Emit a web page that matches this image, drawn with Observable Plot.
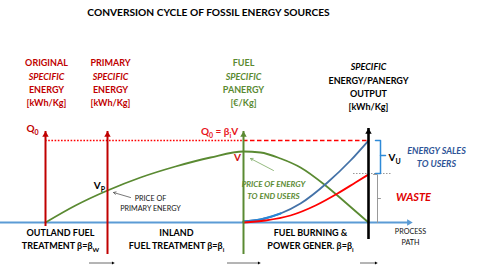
<!DOCTYPE html>
<html><head><meta charset="utf-8">
<script src="https://cdn.jsdelivr.net/npm/d3@7"></script>
<script src="https://cdn.jsdelivr.net/npm/@observablehq/plot@0.6"></script>
<style>body{margin:0;background:#fff}</style>
</head><body><div id="chart"></div>
<script>
// ---- data (process-path position x, specific value y; baseline = 0) ----
const stageNames = ["original", "primary", "fuel", "output"];
const stageX = [45, 107, 243, 368];
const stageBottom = [0, -28, -28, -13];
const stageTop = [91, 91, 91, 94];

const q0 = 82;               // Q0 = βi·V level
const pathEnd = 412;         // process path arrow tip

const panergyX = [45, 75, 107, 140, 175, 210, 243, 260, 280, 300, 325, 345, 368];
const panergyV = [0, 17, 32, 45, 56, 65, 71, 70, 64, 55, 37, 20, 0];

const salesX = [243, 260, 280, 300, 327, 350, 368];
const salesV = [1, 3, 9, 19, 40, 62, 82];

const wasteX = [243, 265, 290, 315, 337, 355, 368];
const wasteV = [0, 2, 7, 17, 29, 40, 48];

const stepArrowsX1 = [89, 227, 360];
const stepArrowsX2 = [114, 260, 377];
const stepArrowY = -40.5;

const title = "CONVERSION CYCLE OF FOSSIL ENERGY SOURCES";
const headings = [
  {x: 46, lines: ["ORIGINAL", "SPECIFIC", "ENERGY", "[kWh/Kg]"], top: 159, color: "red"},
  {x: 110, lines: ["PRIMARY", "SPECIFIC", "ENERGY", "[kWh/Kg]"], top: 159, color: "red"},
  {x: 243, lines: ["FUEL", "SPECIFIC", "PANERGY", "[€/Kg]"], top: 159, color: "green"},
  {x: 368, lines: ["SPECIFIC", "ENERGY/PANERGY", "OUTPUT", "[kWh/Kg]"], top: 155, color: "black"}
];
const phaseLabels = [
  {x: 60, lines: ["OUTLAND FUEL", "TREATMENT β=β_W"]},
  {x: 176, lines: ["INLAND", "FUEL TREATMENT β=β_i"]},
  {x: 310, lines: ["FUEL BURNING &", "POWER GENER. β=β_i"]}
];

// ---- colours ----
const C = {red: "#c00000", bright: "#ff0000", green: "#5a8a32", blue: "#4472a8",
  light: "#5b9bd5", lightCurve: "#2a86d6", brace: "#2e8ad8", sales: "#2f5597", black: "#000"};
const stageColor = [C.red, C.red, C.green, C.black];
const stageWidth = [2, 2, 2, 2.6];

// ---- derived tables ----
const stages = stageNames.map((n, i) => ({n, x: stageX[i], y1: stageBottom[i], y2: stageTop[i], c: stageColor[i], w: stageWidth[i]}));
const panergy = panergyX.map((x, i) => ({x, y: panergyV[i]}));
const sales = salesX.map((x, i) => ({x, y: salesV[i]}));
const waste = wasteX.map((x, i) => ({x, y: wasteV[i]}));
const steps = stepArrowsX1.map((x1, i) => ({x1, x2: stepArrowsX2[i], y: stepArrowY}));
const headingRows = headings.flatMap(h => h.lines.map((t, j) => ({x: h.x, y: h.top - j * 13.3, t, italic: t === "SPECIFIC", c: h.color === "red" ? C.red : h.color === "green" ? C.green : C.black})));
const phaseRows = phaseLabels.flatMap(p => p.lines.map((t, j) => ({x: p.x, y: -11 - j * 12.5, t})));

const salesEnd = salesV[salesV.length - 1];
const wasteEnd = wasteV[wasteV.length - 1];
const outX = stageX[3];
const braceX = outX + 12, braceL = outX + 7;
const brace = [{x: braceL, y: salesEnd}, {x: braceX, y: salesEnd}, {x: braceX, y: wasteEnd + 1}, {x: braceL, y: wasteEnd + 1}];
const braceTick = [{x: braceX, y: (salesEnd + wasteEnd) / 2 + 2}, {x: braceX + 5, y: (salesEnd + wasteEnd) / 2 + 2}];
const wasteBrX = outX + 9;
const wasteBr = [{x: wasteBrX - 4, y: wasteEnd}, {x: wasteBrX, y: wasteEnd}, {x: wasteBrX, y: 0}];
const wasteTick = [{x: wasteBrX, y: wasteEnd / 2}, {x: wasteBrX + 3, y: wasteEnd / 2}];

const fuelX = stageX[2];
const svg = Plot.plot({
  width: 480, height: 269,
  marginTop: 0, marginRight: 0, marginBottom: 0, marginLeft: 0,
  x: {domain: [0, 480], range: [0, 480], axis: null},
  y: {domain: [-47, 222], range: [269, 0], axis: null},
  style: {fontFamily: "Lato, 'Open Sans', sans-serif", background: "#fff"},
  marks: [
    // Q0 reference line: dotted then dashed
    Plot.ruleY([q0], {x1: stageX[0], x2: fuelX, stroke: C.bright, strokeWidth: 1.6, strokeDasharray: "1.6,1.6"}),
    Plot.ruleY([q0], {x1: fuelX, x2: outX, stroke: C.bright, strokeWidth: 1.6, strokeDasharray: "4.5,2.5"}),
    // grey dotted level of waste end
    Plot.ruleY([wasteEnd + 1], {x1: outX - 15, x2: outX + 24, stroke: "#999", strokeWidth: 1, strokeDasharray: "1.5,1.5"}),
    // process path baseline
    Plot.ruleY([0], {x1: 0, x2: pathEnd, insetRight: 4, stroke: C.light, strokeWidth: 2.2}),
    Plot.dot([0], {x: pathEnd, y: 0, symbol: "triangle", rotate: 90, r: 2.4, fill: C.light, stroke: "none", dx: -3.5}),
    // curves
    Plot.line(panergy, {x: "x", y: "y", curve: "monotone-x", stroke: C.green, strokeWidth: 1.8}),
    Plot.line(sales, {x: "x", y: "y", curve: "monotone-x", stroke: C.blue, strokeWidth: 1.8}),
    Plot.line(sales.filter(d => d.x <= 290), {x: "x", y: "y", curve: "monotone-x", stroke: C.lightCurve, strokeWidth: 2.2}),
    Plot.line(waste, {x: "x", y: "y", curve: "monotone-x", stroke: C.bright, strokeWidth: 1.8}),
    // stage axes
    Plot.ruleX(stages, {x: "x", y1: "y1", y2: "y2", insetTop: 4, stroke: "c", strokeWidth: "w"}),
    Plot.dot(stages, {x: "x", y: "y2", symbol: "triangle", r: 2.4, fill: "c", stroke: "none", dy: 3.5}),
    // brackets
    Plot.line(brace, {x: "x", y: "y", stroke: C.brace, strokeWidth: 1.5}),
    Plot.line(braceTick, {x: "x", y: "y", stroke: C.brace, strokeWidth: 1.5}),
    Plot.line(wasteBr, {x: "x", y: "y", stroke: "#999", strokeWidth: 1}),
    Plot.line(wasteTick, {x: "x", y: "y", stroke: "#999", strokeWidth: 1}),
    // pointer arrows
    Plot.arrow([0], {x1: 130, y1: 25, x2: 113, y2: 30, stroke: "#555", strokeWidth: 0.8, headLength: 5}),
    Plot.arrow([0], {x1: 273, y1: 52, x2: 250, y2: 64, stroke: "#7aa860", strokeWidth: 0.8, headLength: 5}),
    // step arrows along bottom
    Plot.ruleY(steps, {x1: "x1", x2: "x2", y: "y", insetRight: 2, stroke: "#444", strokeWidth: 0.8}),
    Plot.dot(steps, {x: "x2", y: "y", symbol: "triangle", rotate: 90, r: 1.2, fill: "#000", stroke: "none", dx: -1.6}),
    // title and headings
    Plot.text([title], {x: 208, y: 210, text: d => d, fontSize: 10.2, fontWeight: "bold", fill: "#000"}),
    Plot.text(headingRows.filter(d => !d.italic), {x: "x", y: "y", text: "t", fill: "c", fontSize: 9, fontWeight: "bold"}),
    Plot.text(headingRows.filter(d => d.italic), {x: "x", y: "y", text: "t", fill: "c", fontSize: 9, fontWeight: "bold", fontStyle: "italic"}),
    // value labels
    Plot.text(["Q_0"], {x: 32, y: 94, text: d => d, fill: C.red, fontSize: 10, fontWeight: "bold"}),
    Plot.text(["Q_0 = β_iV"], {x: 219, y: 91, text: d => d, fill: "#e8141b", fontSize: 10, fontWeight: "bold"}),
    Plot.text(["V"], {x: 237, y: 65, text: d => d, fill: "#d01010", fontSize: 10, fontWeight: "bold"}),
    Plot.text(["V_P"], {x: 99, y: 37, text: d => d, fill: "#000", fontSize: 10, fontWeight: "bold"}),
    Plot.text(["V_U"], {x: 394, y: 65, text: d => d, fill: "#000", fontSize: 10, fontWeight: "bold"}),
    Plot.text(["PRICE OF\nPRIMARY ENERGY"], {x: 150, y: 20, text: d => d, fill: "#111", fontSize: 7.2, lineHeight: 1.4}),
    Plot.text(["PRICE OF ENERGY\nTO END USERS"], {x: 273, y: 33, text: d => d, fill: C.green, fontSize: 8, fontWeight: "bold", fontStyle: "italic", lineHeight: 1.5}),
    Plot.text(["ENERGY SALES\nTO USERS"], {x: 436, y: 66.5, text: d => d, fill: C.sales, fontSize: 9, fontWeight: "bold", fontStyle: "italic", lineHeight: 1.45}),
    Plot.text(["WASTE"], {x: 413, y: 25, text: d => d, fill: "#e00000", fontSize: 11, fontWeight: "bold", fontStyle: "italic"}),
    Plot.text(["PROCESS\nPATH"], {x: 410, y: -13.5, text: d => d, fill: "#111", fontSize: 7.2, lineHeight: 1.5}),
    Plot.text(phaseRows, {x: "x", y: "y", text: "t", fill: "#000", fontSize: 9, fontWeight: "bold"})
  ]
});

// subscripts: "_x" -> lowered small character
svg.querySelectorAll("text").forEach(t => {
  if (t.querySelector("tspan") || !t.textContent.includes("_")) return;
  const parts = t.textContent.split(/_(.)/);
  t.textContent = "";
  let low = false;
  parts.forEach((p, i) => {
    if (!p) return;
    const ts = document.createElementNS("http://www.w3.org/2000/svg", "tspan");
    ts.textContent = p;
    if (i % 2 === 1) { ts.setAttribute("font-size", "70%"); ts.setAttribute("dy", "3"); low = true; }
    else if (low) { ts.setAttribute("dy", "-3"); low = false; }
    t.appendChild(ts);
  });
});
document.getElementById("chart").appendChild(svg);
</script></body></html>
